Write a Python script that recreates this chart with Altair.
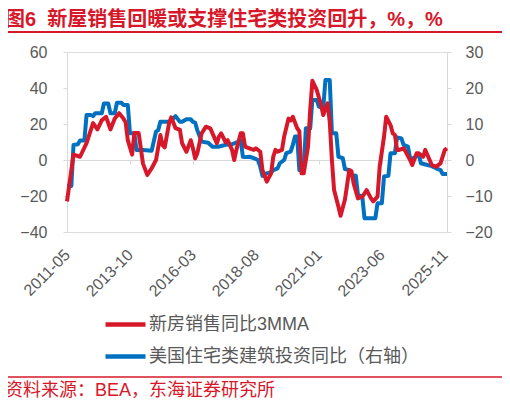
import altair as alt
import pandas as pd

RED = "#d7182a"
BLUE = "#0070c0"
GREY_TXT = "#595959"
AXIS_GREY = "#d9d9d9"
FONT = "Liberation Sans, Noto Sans CJK SC, sans-serif"

TITLE = "图6\u00a0\u00a0新屋销售回暖或支撑住宅类投资回升，%，%"
SOURCE = "资料来源：BEA，东海证券研究所"
RED_NAME = "新房销售同比3MMA"
BLUE_NAME = "美国住宅类建筑投资同比（右轴）"

x_tick_labels = ["2011-05", "2013-10", "2016-03", "2018-08", "2021-01", "2023-06", "2025-11"]
left_ticks = [-40, -20, 0, 20, 40, 60]
right_ticks = [-20, -10, 0, 10, 20, 30]

red_dates = [
    "2011-05", "2011-08", "2011-11", "2012-02", "2012-05", "2012-07", "2012-09", "2012-11",
    "2013-01", "2013-03", "2013-05", "2013-07", "2013-08", "2013-09", "2013-11", "2013-12",
    "2014-02", "2014-04", "2014-06", "2014-08", "2014-10", "2014-12", "2015-01", "2015-02",
    "2015-04", "2015-05", "2015-07", "2015-09", "2015-10", "2015-12", "2016-02", "2016-03",
    "2016-04", "2016-05", "2016-07", "2016-09", "2016-11", "2016-12", "2017-02", "2017-03",
    "2017-04", "2017-06", "2017-07", "2017-09", "2017-10", "2017-11", "2018-01", "2018-02",
    "2018-03", "2018-05", "2018-07", "2018-08", "2018-10", "2018-11", "2019-01", "2019-03",
    "2019-04", "2019-05", "2019-06", "2019-08", "2019-09", "2019-11", "2019-12", "2020-01",
    "2020-03", "2020-04", "2020-05", "2020-06", "2020-08", "2020-09", "2020-10", "2020-12",
    "2021-02", "2021-03", "2021-05", "2021-06", "2021-07", "2021-08", "2021-10", "2021-11",
    "2022-01", "2022-03", "2022-04", "2022-05", "2022-07", "2022-09", "2022-11", "2023-01",
    "2023-02", "2023-04", "2023-05", "2023-07", "2023-08", "2023-10", "2023-11", "2023-12",
    "2024-01", "2024-02", "2024-04", "2024-05", "2024-07", "2024-08", "2024-10", "2024-11",
    "2025-01", "2025-02", "2025-04", "2025-05", "2025-07", "2025-09", "2025-11", "2025-12",
]
red_values = [
    -23, 3, 1.8, 9.4, 20.5, 17, 22, 24,
    17, 23, 26, 23, 21, 11, 3, 15,
    15, -2, -8.3, -4.6, 0, 13.9, 8.3, 7,
    20.4, 23.7, 17.7, 16.7, 9.3, 4.6, 11, 6.5,
    0.9, 3.7, 14.8, 18.5, 17.6, 14.8, 9.3, 13,
    14.8, 10, 11, 5.6, 0, 5.6, 14.8, 14.8,
    7.4, 6.5, 5.6, 6.5, 4.6, -5.6, -12, -7.4,
    1.9, 5.6, 4.6, 5.6, 13, 23, 22, 24,
    17.6, 16, -7.4, -7.4, 7.4, 27.8, 44, 38.9,
    30.6, 25, 31.5, 21.3, 0, -16.7, -26, -31,
    -22, -5.6, -6.1, -13, -21.3, -20.4, -16.7, -21.3,
    -23, -20.4, -3.7, 13, 24, 19.4, 14.8, 14,
    5.6, 5.6, 6.5, 4.6, 0, -2.8, 3.7, 3.7,
    1.8, 5.6, 0, -2.8, -3.7, -1.9, 5.6, 6.5,
]

blue_dates = [
    "2011-05", "2011-07", "2011-08", "2011-10", "2011-11", "2012-01", "2012-02", "2012-04",
    "2012-05", "2012-06", "2012-09", "2012-10", "2012-12", "2013-01", "2013-03", "2013-04",
    "2013-06", "2013-07", "2013-09", "2013-10", "2013-12", "2014-01", "2014-04", "2014-08",
    "2014-10", "2014-11", "2014-12", "2015-04", "2015-06", "2015-07", "2015-09", "2015-10",
    "2015-12", "2016-02", "2016-03", "2016-04", "2016-05", "2016-07", "2016-10", "2016-12",
    "2017-03", "2017-04", "2017-06", "2017-09", "2017-10", "2017-12", "2018-01", "2018-02",
    "2018-03", "2018-05", "2018-07", "2018-09", "2018-10", "2018-11", "2019-01", "2019-03",
    "2019-04", "2019-06", "2019-07", "2019-09", "2019-10", "2019-12", "2020-01", "2020-02",
    "2020-03", "2020-04", "2020-06", "2020-07", "2020-09", "2020-10", "2020-12", "2021-01",
    "2021-03", "2021-04", "2021-06", "2021-07", "2021-09", "2021-10", "2021-12", "2022-01",
    "2022-03", "2022-04", "2022-06", "2022-07", "2022-09", "2022-10", "2023-03", "2023-04",
    "2023-06", "2023-07", "2023-09", "2023-10", "2023-12", "2024-01", "2024-03", "2024-04",
    "2024-06", "2024-07", "2024-09", "2024-10", "2024-11", "2024-12", "2025-03", "2025-05",
    "2025-07", "2025-09", "2025-10", "2025-12",
]
blue_values = [
    -7.2, -7.2, 4.2, 4.4, 5.4, 5.4, 12.5, 12.5,
    12.2, 13, 13, 15.7, 15.7, 13, 13, 15.9,
    15.9, 15.3, 15.3, 7.4, 7.4, 2.8, 2.8, 2.6,
    7.9, 8.3, 10.6, 10.6, 11.6, 12.2, 10.6, 10.6,
    11.3, 11.3, 10.6, 10.4, 8.3, 5.1, 4.8, 3.7,
    3.7, 3.9, 4.2, 4.4, 4.6, 5.1, 5.4, 0.9,
    0.8, 0.9, 0.5, 0, -1.9, -4.4, -3.7, -3.4,
    -2.8, -2.3, -0.9, 0, 1.9, 2.3, 4.2, 6.5,
    6.5, -2.8, -2.8, 8.8, 8.8, 16.7, 16.7, 14.8,
    14.4, 22.2, 22.2, 7.4, 7.4, 0.9, 0.5, -2.5,
    -2.8, -4.2, -4.4, -9.7, -10.2, -16.2, -16.2, -12,
    -12, -4.6, -4.4, 1.9, 1.9, 6.3, 6, 4.2,
    3.7, 0.5, 0.5, 1.4, 1.4, -0.9, -1.4, -1.7,
    -2.3, -2.8, -3.9, -3.9,
]


def month_index(s):
    y, m = s.split("-")
    return (int(y) - 2011) * 12 + int(m) - 5


red_df = pd.DataFrame({"t": [month_index(d) for d in red_dates], "v": red_values, "series": RED_NAME})
blue_df = pd.DataFrame({"t": [month_index(d) for d in blue_dates], "v": blue_values, "series": BLUE_NAME})

x_vals = [month_index(d) for d in x_tick_labels]
label_expr = ("(2011 + floor((datum.value + 4) / 12)) + '-' + "
              "(((datum.value + 4) % 12) + 1 < 10 ? '0' : '') + (((datum.value + 4) % 12) + 1)")

color_scale = alt.Scale(domain=[RED_NAME, BLUE_NAME], range=[RED, BLUE])
legend = alt.Legend(
    title=None, orient="none", legendX=36, legendY=250, direction="vertical",
    symbolType="stroke", symbolSize=1600, symbolStrokeWidth=4.5,
    labelFontSize=18, labelColor=GREY_TXT, labelFont=FONT, labelOffset=1,
    rowPadding=-3, padding=0, labelLimit=400,
)

x_enc = alt.X(
    "t:Q",
    scale=alt.Scale(domain=[0, 175], nice=False, zero=False),
    axis=alt.Axis(
        title=None, values=x_vals, labelExpr=label_expr, labelAngle=-45,
        labelAlign="right", labelBaseline="middle", labelPadding=88, offset=-72,
        domainColor=AXIS_GREY, tickColor=AXIS_GREY, tickSize=4, grid=False,
        labelFontSize=16, labelColor=GREY_TXT, labelFont=FONT,
        labelOverlap=False, labelFlush=False,
    ),
)

red_line = alt.Chart(red_df).mark_line(strokeWidth=4, strokeJoin="round").encode(
    x=x_enc,
    y=alt.Y(
        "v:Q",
        scale=alt.Scale(domain=[-40, 60], nice=False, zero=False),
        axis=alt.Axis(
            title=None, orient="left", values=left_ticks, grid=False,
            domainColor=AXIS_GREY, tickColor=AXIS_GREY, tickSize=4, labelPadding=16,
            labelFontSize=16, labelColor=GREY_TXT, labelFont=FONT,
        ),
    ),
    color=alt.Color("series:N", scale=color_scale, legend=legend),
)

blue_line = alt.Chart(blue_df).mark_line(strokeWidth=4, strokeJoin="round").encode(
    x=alt.X("t:Q"),
    y=alt.Y(
        "v:Q",
        scale=alt.Scale(domain=[-20, 30], nice=False, zero=False),
        axis=alt.Axis(
            title=None, orient="right", values=right_ticks, grid=False,
            domainColor=AXIS_GREY, tickColor=AXIS_GREY, tickSize=4, labelPadding=14,
            labelFontSize=16, labelColor=GREY_TXT, labelFont=FONT,
        ),
    ),
    color=alt.Color("series:N", scale=color_scale, legend=legend),
)

lines = alt.layer(blue_line, red_line).resolve_scale(y="independent")

title_text = alt.Chart(pd.DataFrame({"txt": [TITLE]})).mark_text(
    align="left", baseline="alphabetic", font=FONT, fontSize=20, fontWeight="bold", color=RED
).encode(text="txt:N", x=alt.value(-62), y=alt.value(-26))

source_text = alt.Chart(pd.DataFrame({"txt": [SOURCE]})).mark_text(
    align="left", baseline="alphabetic", font=FONT, fontSize=18, color=RED
).encode(text="txt:N", x=alt.value(-62), y=alt.value(344))

title_rule = alt.Chart(pd.DataFrame({"a": [0]})).mark_rule(color=RED, strokeWidth=2).encode(
    x=alt.value(-62), x2=alt.value(437), y=alt.value(-20)
)
source_rule = alt.Chart(pd.DataFrame({"a": [0]})).mark_rule(color=RED, strokeWidth=1.5).encode(
    x=alt.value(-62), x2=alt.value(437), y=alt.value(325)
)

chart = alt.layer(
    lines, title_text, source_text, title_rule, source_rule
).resolve_scale(y="independent").properties(
    width=380, height=180,
    autosize=alt.AutoSizeParams(type="none"),
    padding={"left": 59, "top": 44, "right": 55, "bottom": 168},
).configure_view(stroke=None).configure(background="white")

chart.save("out.html", embed_options={"renderer": "svg", "actions": False})
